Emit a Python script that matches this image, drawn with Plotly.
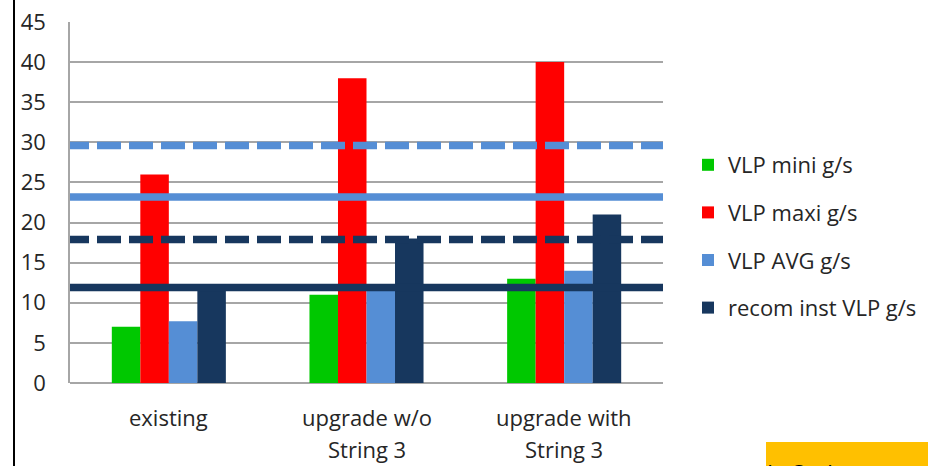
import plotly.graph_objects as go

# ---- data ----
categories = ["existing", "upgrade w/o\nString 3", "upgrade with\nString 3"]
series_names = ["VLP mini g/s", "VLP maxi g/s", "VLP AVG g/s", "recom inst VLP g/s"]
vlp_mini = [7, 11, 13]
vlp_maxi = [26, 38, 40]
vlp_avg = [7.7, 11.8, 14]
recom_inst = [12, 18, 21]

# reference levels drawn across the whole chart
avg_max_level = 29.6      # light blue dashed
avg_level = 23.2          # light blue solid
recom_max_level = 17.9    # navy dashed
recom_level = 11.9        # navy solid

y_ticks = [0, 5, 10, 15, 20, 25, 30, 35, 40, 45]

# ---- style ----
GREEN = "#00C800"
RED = "#FF0000"
LBLUE = "#558ED5"
NAVY = "#17375E"
GRID = "#A6A6A6"
FONT = "Open Sans"
TXT = "#262626"
FS = 22

W, H = 935, 466
L, R, T, B = 70, 272, 22, 83
plot_w = W - L - R
plot_h = H - T - B


def px_x(px):
    return (px - L) / plot_w


def px_y(py):
    return 1 - (py - T) / plot_h


x_pos = list(range(len(categories)))
fig = go.Figure()

for name, vals, col in zip(series_names,
                           [vlp_mini, vlp_maxi, vlp_avg, recom_inst],
                           [GREEN, RED, LBLUE, NAVY]):
    fig.add_trace(go.Bar(
        x=x_pos, y=vals, name=name, marker_color=col,
        marker_line_width=0, legendgroup=name,
    ))

x_lo, x_hi = -0.5, len(categories) - 0.5
dash_shift = 5 / (plot_w / len(categories))  # phase of the dash pattern
for level, col, dash in [(avg_max_level, LBLUE, "24px,8px"),
                         (avg_level, LBLUE, "solid"),
                         (recom_max_level, NAVY, "24px,8px"),
                         (recom_level, NAVY, "solid")]:
    start = x_lo - dash_shift if dash != "solid" else x_lo
    fig.add_trace(go.Scatter(
        x=[start, x_hi], y=[level, level], mode="lines",
        line=dict(color=col, width=7.5, dash=dash),
        showlegend=False, hoverinfo="skip",
    ))

# category labels (two-line labels with wide line spacing)
for xi, cat in zip(x_pos, categories):
    for k, line in enumerate(cat.split("\n")):
        fig.add_annotation(
            x=xi, xref="x", y=0, yref="paper", yanchor="middle",
            yshift=-34 - 32 * k, text=line, showarrow=False,
            font=dict(family=FONT, size=FS, color=TXT),
        )

# frame line on the left and the yellow tab at the bottom right
fig.add_shape(type="line", xref="paper", yref="paper",
              x0=px_x(14), x1=px_x(14), y0=px_y(0), y1=px_y(H),
              line=dict(color="black", width=2))
fig.add_shape(type="rect", xref="paper", yref="paper",
              x0=px_x(766), x1=px_x(928), y0=px_y(442), y1=px_y(H + 10),
              fillcolor="#FFC000", line_width=0, layer="below")
fig.add_annotation(x=px_x(847), xref="paper", y=px_y(455), yref="paper",
                   yanchor="top", text="In Scale", showarrow=False,
                   font=dict(family=FONT, size=FS, color="black"))

fig.update_layout(
    width=W, height=H,
    margin=dict(l=L, r=R, t=T, b=B, autoexpand=False),
    paper_bgcolor="white", plot_bgcolor="white",
    barmode="group", bargap=0.423, bargroupgap=0,
    showlegend=True,
    legend=dict(
        x=px_x(688), xanchor="left", y=px_y(144), yanchor="top",
        font=dict(family=FONT, size=FS, color=TXT),
        tracegroupgap=16, bgcolor="rgba(0,0,0,0)",
    ),
    font=dict(family=FONT),
)
fig.update_xaxes(
    range=[x_lo, x_hi], showticklabels=False, showgrid=False,
    zeroline=False, showline=False, ticks="",
)
fig.update_yaxes(
    range=[0, 45], tickvals=y_ticks,
    ticks="outside", ticklen=18, tickcolor="rgba(0,0,0,0)",
    showgrid=True, gridcolor=GRID, gridwidth=1.5,
    zeroline=True, zerolinecolor=GRID, zerolinewidth=1.5,
    showline=True, linecolor=GRID, linewidth=1.5,
    tickfont=dict(family=FONT, size=FS, color=TXT),
)

fig.write_html("out.html")
